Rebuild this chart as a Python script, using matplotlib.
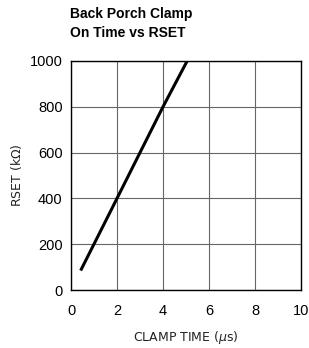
import matplotlib
matplotlib.use("Agg")
import matplotlib.pyplot as plt

# curve
clamp_time = [0.42, 2.0, 4.0, 5.05]
rset = [85, 400, 800, 1000]

x_ticks = [0, 2, 4, 6, 8, 10]
y_ticks = [0, 200, 400, 600, 800, 1000]

plt.rcParams['font.family'] = ['Liberation Sans', 'DejaVu Sans']

fig = plt.figure(figsize=(3.09, 3.48), dpi=100)
ax = fig.add_axes([71 / 309, 58 / 348, 230 / 309, 229 / 348])

ax.plot(clamp_time, rset, color='black', lw=2.2, solid_capstyle='butt')

ax.set_xlim(0, 10)
ax.set_ylim(0, 1000)
ax.set_xticks(x_ticks)
ax.set_yticks(y_ticks)
ax.grid(True, color='#666666', lw=0.8)
ax.tick_params(length=0, labelsize=10.5)
ax.tick_params(axis='x', pad=10)
ax.tick_params(axis='y', pad=6)
for s in ax.spines.values():
    s.set_color('black')
    s.set_linewidth(1.0)

ax.set_xlabel(r'CLAMP TIME ($\mu$s)', fontsize=9, labelpad=8,
              family=['DejaVu Sans'], color='#222222')
ax.set_ylabel(r'RSET (k$\Omega$)', fontsize=9, labelpad=4,
              family=['DejaVu Sans'], color='#222222')

fig.text(70 / 309, 1 - 7 / 348, 'Back Porch Clamp\nOn Time vs RSET',
         fontsize=10, fontweight='bold', va='top', ha='left',
         family=['Liberation Sans Narrow', 'Liberation Sans'], linespacing=1.45)

fig.savefig('out.png', dpi=100)
